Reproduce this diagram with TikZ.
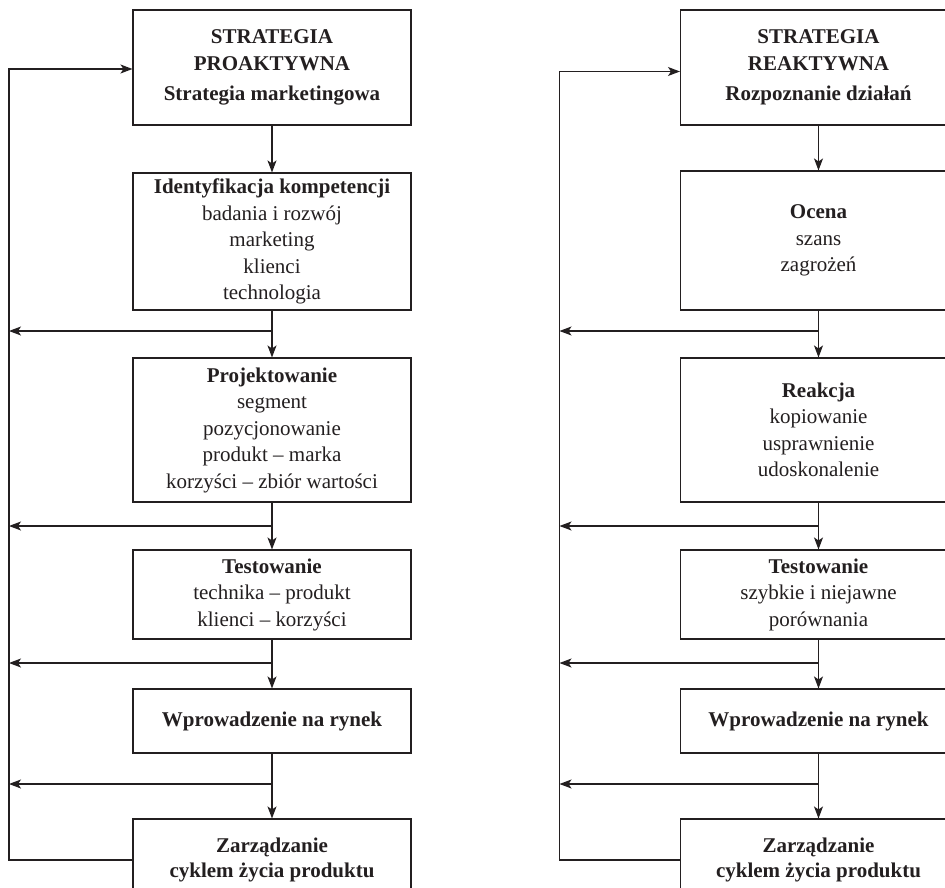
\documentclass[tikz,border=0pt]{standalone}
\usepackage{fontspec}
\setmainfont{Liberation Serif}
\usetikzlibrary{arrows.meta}
\definecolor{ink}{HTML}{231F20}
\begin{document}
\begin{tikzpicture}[x=1pt,y=-1pt,
  box/.style={draw=ink, line width=1.1pt, rectangle, align=center, text=ink,
    inner sep=0pt, font=\fontsize{21}{26.5}\selectfont},
  boldbox/.style={box, font=\fontsize{21}{26.5}\selectfont\bfseries},
  lbox/.style={minimum width=278pt},
  rbox/.style={minimum width=276pt},
  wire/.style={draw=ink, line width=1.1pt},
  link/.style={wire, -{Stealth[length=12pt,width=9pt,inset=3pt]}}]
\clip (0,0) rectangle (945,888);
\fill[white] (0,0) rectangle (945,888);

% rails carrying feedback back to the strategy boxes
\coordinate (Lrail) at (9,0);
\coordinate (Rrail) at (559.5,0);

% ---------- proactive strategy ----------
\node[boldbox, lbox, minimum height=115pt] (L1) at (272,67.5)
  {STRATEGIA\\PROAKTYWNA\\[4pt]Strategia marketingowa};
\node[box, lbox, minimum height=137pt] (L2) at (272,241.5)
  {\textbf{Identyfikacja kompetencji}\\badania i rozwój\\marketing\\klienci\\technologia};
\node[box, lbox, minimum height=144pt] (L3) at (272,430)
  {\textbf{Projektowanie}\\segment\\pozycjonowanie\\produkt – marka\\korzyści – zbiór wartości};
\node[box, lbox, minimum height=89pt] (L4) at (272,594.5)
  {\textbf{Testowanie}\\technika – produkt\\klienci – korzyści};
\node[boldbox, lbox, minimum height=64pt] (L5) at (272,721)
  {Wprowadzenie na rynek};
\node[boldbox, lbox, minimum height=82pt] (L6) at (272,860)
  {Zarządzanie\\[-1.5pt]cyklem życia produktu};

\coordinate (Lj1) at (272,331);
\coordinate (Lj2) at (272,526);
\coordinate (Lj3) at (272,663);
\coordinate (Lj4) at (272,784);

\draw[link] (L1) -- (L2);
\draw[link] (L2) -- (L3);
\draw[link] (L3) -- (L4);
\draw[link] (L4) -- (L5);
\draw[link] (L5) -- (L6);
\foreach \j in {Lj1,Lj2,Lj3,Lj4}
  \draw[link] (\j) -- (\j -| Lrail);
\draw[link] (L6.west) -- (L6.west -| Lrail) -- ([yshift=-1.5pt]L1.west -| Lrail) -- ([yshift=-1.5pt]L1.west);

% ---------- reactive strategy ----------
\node[boldbox, rbox, minimum height=115pt] (R1) at (818.5,67.5)
  {STRATEGIA\\REAKTYWNA\\[4pt]Rozpoznanie działań};
\node[box, rbox, minimum height=139pt] (R2) at (818.5,240.5)
  {\textbf{Ocena}\\szans\\zagrożeń};
\node[box, rbox, minimum height=144pt] (R3) at (818.5,430)
  {\textbf{Reakcja}\\kopiowanie\\usprawnienie\\udoskonalenie};
\node[box, rbox, minimum height=89pt] (R4) at (818.5,594.5)
  {\textbf{Testowanie}\\szybkie i niejawne\\porównania};
\node[boldbox, rbox, minimum height=64pt] (R5) at (818.5,721)
  {Wprowadzenie na rynek};
\node[boldbox, rbox, minimum height=82pt] (R6) at (818.5,860)
  {Zarządzanie\\[-1.5pt]cyklem życia produktu};

\coordinate (Rj1) at (818.5,331);
\coordinate (Rj2) at (818.5,526);
\coordinate (Rj3) at (818.5,663);
\coordinate (Rj4) at (818.5,784);

\draw[link] (R1) -- (R2);
\draw[link] (R2) -- (R3);
\draw[link] (R3) -- (R4);
\draw[link] (R4) -- (R5);
\draw[link] (R5) -- (R6);
\foreach \j in {Rj1,Rj2,Rj3,Rj4}
  \draw[link] (\j) -- (\j -| Rrail);
\draw[link] (R6.west) -- (R6.west -| Rrail) -- ([yshift=-4pt]R1.west -| Rrail) -- ([yshift=-4pt]R1.west);
\end{tikzpicture}
\end{document}
